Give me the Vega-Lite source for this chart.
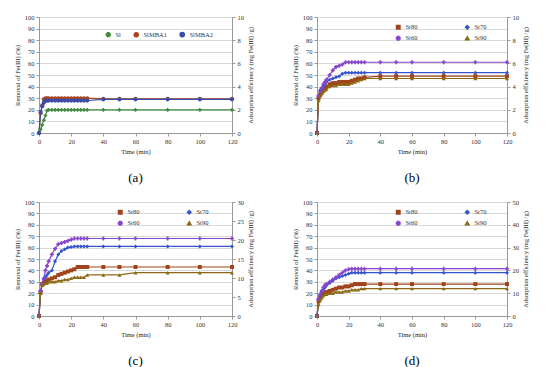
{
"$schema":"https://vega.github.io/schema/vega-lite/v6.json",
"padding":{"left":14,"top":14,"right":5,"bottom":5},
"config":{"font":"Liberation Serif","view":{"stroke":null},
"axis":{"labelFontSize":6.5,"titleFontSize":6.5,"titleFontWeight":"normal","labelColor":"#333","titleColor":"#222","domainColor":"#999","tickColor":"#999","gridColor":"#d9d9d9","tickSize":3,"labelPadding":2,"titlePadding":4,"labelOverlap":false,"labelFlush":false},
"legend":{"labelFontSize":6.5,"labelColor":"#333"},
"title":{"fontSize":13,"fontWeight":"normal","color":"#000","font":"Liberation Serif"}},
"resolve":{"scale":{"color":"independent","shape":"independent","size":"independent"},"legend":{"color":"independent","shape":"independent"}},
"spacing":14,
"data":{"values":[
{"p":"a","s":"Sl","t":0,"r":0},{"p":"a","s":"Sl","t":1,"r":3},{"p":"a","s":"Sl","t":2,"r":7},{"p":"a","s":"Sl","t":3,"r":11},{"p":"a","s":"Sl","t":4,"r":15},{"p":"a","s":"Sl","t":5,"r":19.5},{"p":"a","s":"Sl","t":6,"r":20},{"p":"a","s":"Sl","t":8,"r":20},{"p":"a","s":"Sl","t":10,"r":20},{"p":"a","s":"Sl","t":12,"r":20},{"p":"a","s":"Sl","t":14,"r":20},{"p":"a","s":"Sl","t":16,"r":20},{"p":"a","s":"Sl","t":18,"r":20},{"p":"a","s":"Sl","t":20,"r":20},{"p":"a","s":"Sl","t":22,"r":20},{"p":"a","s":"Sl","t":24,"r":20},{"p":"a","s":"Sl","t":26,"r":20},{"p":"a","s":"Sl","t":28,"r":20},{"p":"a","s":"Sl","t":30,"r":20},{"p":"a","s":"Sl","t":40,"r":20},{"p":"a","s":"Sl","t":50,"r":20},{"p":"a","s":"Sl","t":60,"r":20},{"p":"a","s":"Sl","t":80,"r":20},{"p":"a","s":"Sl","t":100,"r":20},{"p":"a","s":"Sl","t":120,"r":20},
{"p":"a","s":"SlMBA1","t":0,"r":0},{"p":"a","s":"SlMBA1","t":1,"r":17},{"p":"a","s":"SlMBA1","t":2,"r":24},{"p":"a","s":"SlMBA1","t":3,"r":29},{"p":"a","s":"SlMBA1","t":4,"r":30},{"p":"a","s":"SlMBA1","t":5,"r":30},{"p":"a","s":"SlMBA1","t":6,"r":30},{"p":"a","s":"SlMBA1","t":8,"r":30},{"p":"a","s":"SlMBA1","t":10,"r":30},{"p":"a","s":"SlMBA1","t":12,"r":30},{"p":"a","s":"SlMBA1","t":14,"r":30},{"p":"a","s":"SlMBA1","t":16,"r":30},{"p":"a","s":"SlMBA1","t":18,"r":30},{"p":"a","s":"SlMBA1","t":20,"r":30},{"p":"a","s":"SlMBA1","t":22,"r":30},{"p":"a","s":"SlMBA1","t":24,"r":30},{"p":"a","s":"SlMBA1","t":26,"r":30},{"p":"a","s":"SlMBA1","t":28,"r":30},{"p":"a","s":"SlMBA1","t":30,"r":30},{"p":"a","s":"SlMBA1","t":40,"r":29.5},{"p":"a","s":"SlMBA1","t":50,"r":29.5},{"p":"a","s":"SlMBA1","t":60,"r":29.5},{"p":"a","s":"SlMBA1","t":80,"r":29.5},{"p":"a","s":"SlMBA1","t":100,"r":29.5},{"p":"a","s":"SlMBA1","t":120,"r":29.5},
{"p":"a","s":"SlMBA2","t":0,"r":0},{"p":"a","s":"SlMBA2","t":1,"r":18},{"p":"a","s":"SlMBA2","t":2,"r":23},{"p":"a","s":"SlMBA2","t":3,"r":26},{"p":"a","s":"SlMBA2","t":4,"r":28},{"p":"a","s":"SlMBA2","t":5,"r":28},{"p":"a","s":"SlMBA2","t":6,"r":28},{"p":"a","s":"SlMBA2","t":8,"r":28},{"p":"a","s":"SlMBA2","t":10,"r":28},{"p":"a","s":"SlMBA2","t":12,"r":28},{"p":"a","s":"SlMBA2","t":14,"r":28},{"p":"a","s":"SlMBA2","t":16,"r":28},{"p":"a","s":"SlMBA2","t":18,"r":28},{"p":"a","s":"SlMBA2","t":20,"r":28},{"p":"a","s":"SlMBA2","t":22,"r":28},{"p":"a","s":"SlMBA2","t":24,"r":28},{"p":"a","s":"SlMBA2","t":26,"r":28},{"p":"a","s":"SlMBA2","t":28,"r":28},{"p":"a","s":"SlMBA2","t":30,"r":28},{"p":"a","s":"SlMBA2","t":40,"r":29},{"p":"a","s":"SlMBA2","t":50,"r":29},{"p":"a","s":"SlMBA2","t":60,"r":29},{"p":"a","s":"SlMBA2","t":80,"r":29},{"p":"a","s":"SlMBA2","t":100,"r":29},{"p":"a","s":"SlMBA2","t":120,"r":29},
{"p":"b","s":"St80","t":0,"r":0},{"p":"b","s":"St80","t":1,"r":30},{"p":"b","s":"St80","t":2,"r":33},{"p":"b","s":"St80","t":3,"r":35},{"p":"b","s":"St80","t":4,"r":37},{"p":"b","s":"St80","t":5,"r":38},{"p":"b","s":"St80","t":6,"r":40},{"p":"b","s":"St80","t":8,"r":42},{"p":"b","s":"St80","t":10,"r":43},{"p":"b","s":"St80","t":12,"r":43},{"p":"b","s":"St80","t":14,"r":44},{"p":"b","s":"St80","t":16,"r":44},{"p":"b","s":"St80","t":18,"r":44},{"p":"b","s":"St80","t":20,"r":44},{"p":"b","s":"St80","t":22,"r":45},{"p":"b","s":"St80","t":24,"r":46},{"p":"b","s":"St80","t":26,"r":47},{"p":"b","s":"St80","t":28,"r":47},{"p":"b","s":"St80","t":30,"r":48},{"p":"b","s":"St80","t":40,"r":49},{"p":"b","s":"St80","t":50,"r":49},{"p":"b","s":"St80","t":60,"r":49},{"p":"b","s":"St80","t":80,"r":49},{"p":"b","s":"St80","t":100,"r":49},{"p":"b","s":"St80","t":120,"r":49},
{"p":"b","s":"St70","t":0,"r":0},{"p":"b","s":"St70","t":1,"r":32},{"p":"b","s":"St70","t":2,"r":37},{"p":"b","s":"St70","t":3,"r":38},{"p":"b","s":"St70","t":4,"r":40},{"p":"b","s":"St70","t":5,"r":42},{"p":"b","s":"St70","t":6,"r":44},{"p":"b","s":"St70","t":8,"r":46},{"p":"b","s":"St70","t":10,"r":47},{"p":"b","s":"St70","t":12,"r":48},{"p":"b","s":"St70","t":14,"r":49},{"p":"b","s":"St70","t":16,"r":51},{"p":"b","s":"St70","t":18,"r":52},{"p":"b","s":"St70","t":20,"r":52},{"p":"b","s":"St70","t":22,"r":52},{"p":"b","s":"St70","t":24,"r":52},{"p":"b","s":"St70","t":26,"r":52},{"p":"b","s":"St70","t":28,"r":52},{"p":"b","s":"St70","t":30,"r":52},{"p":"b","s":"St70","t":40,"r":52},{"p":"b","s":"St70","t":50,"r":52},{"p":"b","s":"St70","t":60,"r":52},{"p":"b","s":"St70","t":80,"r":52},{"p":"b","s":"St70","t":100,"r":52},{"p":"b","s":"St70","t":120,"r":52},
{"p":"b","s":"St60","t":0,"r":0},{"p":"b","s":"St60","t":1,"r":32},{"p":"b","s":"St60","t":2,"r":36},{"p":"b","s":"St60","t":3,"r":39},{"p":"b","s":"St60","t":4,"r":42},{"p":"b","s":"St60","t":5,"r":44},{"p":"b","s":"St60","t":6,"r":46},{"p":"b","s":"St60","t":8,"r":50},{"p":"b","s":"St60","t":10,"r":54},{"p":"b","s":"St60","t":12,"r":57},{"p":"b","s":"St60","t":14,"r":58},{"p":"b","s":"St60","t":16,"r":59},{"p":"b","s":"St60","t":18,"r":61},{"p":"b","s":"St60","t":20,"r":61},{"p":"b","s":"St60","t":22,"r":61},{"p":"b","s":"St60","t":24,"r":61},{"p":"b","s":"St60","t":26,"r":61},{"p":"b","s":"St60","t":28,"r":61},{"p":"b","s":"St60","t":30,"r":61},{"p":"b","s":"St60","t":40,"r":61},{"p":"b","s":"St60","t":50,"r":61},{"p":"b","s":"St60","t":60,"r":61},{"p":"b","s":"St60","t":80,"r":61},{"p":"b","s":"St60","t":100,"r":61},{"p":"b","s":"St60","t":120,"r":61},
{"p":"b","s":"St90","t":0,"r":0},{"p":"b","s":"St90","t":1,"r":28},{"p":"b","s":"St90","t":2,"r":32},{"p":"b","s":"St90","t":3,"r":34},{"p":"b","s":"St90","t":4,"r":36},{"p":"b","s":"St90","t":5,"r":37},{"p":"b","s":"St90","t":6,"r":38},{"p":"b","s":"St90","t":8,"r":40},{"p":"b","s":"St90","t":10,"r":41},{"p":"b","s":"St90","t":12,"r":41},{"p":"b","s":"St90","t":14,"r":42},{"p":"b","s":"St90","t":16,"r":42},{"p":"b","s":"St90","t":18,"r":42},{"p":"b","s":"St90","t":20,"r":42},{"p":"b","s":"St90","t":22,"r":43},{"p":"b","s":"St90","t":24,"r":44},{"p":"b","s":"St90","t":26,"r":45},{"p":"b","s":"St90","t":28,"r":46},{"p":"b","s":"St90","t":30,"r":47},{"p":"b","s":"St90","t":40,"r":47},{"p":"b","s":"St90","t":50,"r":47},{"p":"b","s":"St90","t":60,"r":47},{"p":"b","s":"St90","t":80,"r":47},{"p":"b","s":"St90","t":100,"r":47},{"p":"b","s":"St90","t":120,"r":47},
{"p":"c","s":"St80","t":0,"r":0},{"p":"c","s":"St80","t":1,"r":21},{"p":"c","s":"St80","t":2,"r":28},{"p":"c","s":"St80","t":3,"r":29},{"p":"c","s":"St80","t":4,"r":30},{"p":"c","s":"St80","t":5,"r":31},{"p":"c","s":"St80","t":6,"r":32},{"p":"c","s":"St80","t":8,"r":33},{"p":"c","s":"St80","t":10,"r":34},{"p":"c","s":"St80","t":12,"r":36},{"p":"c","s":"St80","t":14,"r":37},{"p":"c","s":"St80","t":16,"r":38},{"p":"c","s":"St80","t":18,"r":39},{"p":"c","s":"St80","t":20,"r":40},{"p":"c","s":"St80","t":22,"r":41},{"p":"c","s":"St80","t":24,"r":43},{"p":"c","s":"St80","t":26,"r":43},{"p":"c","s":"St80","t":28,"r":43},{"p":"c","s":"St80","t":30,"r":43},{"p":"c","s":"St80","t":40,"r":43},{"p":"c","s":"St80","t":50,"r":43},{"p":"c","s":"St80","t":60,"r":43},{"p":"c","s":"St80","t":80,"r":43},{"p":"c","s":"St80","t":100,"r":43},{"p":"c","s":"St80","t":120,"r":43},
{"p":"c","s":"St70","t":0,"r":0},{"p":"c","s":"St70","t":1,"r":22},{"p":"c","s":"St70","t":2,"r":28},{"p":"c","s":"St70","t":3,"r":32},{"p":"c","s":"St70","t":4,"r":34},{"p":"c","s":"St70","t":5,"r":36},{"p":"c","s":"St70","t":6,"r":38},{"p":"c","s":"St70","t":8,"r":40},{"p":"c","s":"St70","t":10,"r":48},{"p":"c","s":"St70","t":12,"r":54},{"p":"c","s":"St70","t":14,"r":57},{"p":"c","s":"St70","t":16,"r":58.5},{"p":"c","s":"St70","t":18,"r":60},{"p":"c","s":"St70","t":20,"r":60.5},{"p":"c","s":"St70","t":22,"r":61},{"p":"c","s":"St70","t":24,"r":61},{"p":"c","s":"St70","t":26,"r":61},{"p":"c","s":"St70","t":28,"r":61},{"p":"c","s":"St70","t":30,"r":61},{"p":"c","s":"St70","t":40,"r":61},{"p":"c","s":"St70","t":50,"r":61},{"p":"c","s":"St70","t":60,"r":61},{"p":"c","s":"St70","t":80,"r":61},{"p":"c","s":"St70","t":100,"r":61},{"p":"c","s":"St70","t":120,"r":61},
{"p":"c","s":"St60","t":0,"r":0},{"p":"c","s":"St60","t":1,"r":22},{"p":"c","s":"St60","t":2,"r":28},{"p":"c","s":"St60","t":3,"r":33},{"p":"c","s":"St60","t":4,"r":40},{"p":"c","s":"St60","t":5,"r":44},{"p":"c","s":"St60","t":6,"r":48},{"p":"c","s":"St60","t":8,"r":54},{"p":"c","s":"St60","t":10,"r":59},{"p":"c","s":"St60","t":12,"r":63},{"p":"c","s":"St60","t":14,"r":64},{"p":"c","s":"St60","t":16,"r":65},{"p":"c","s":"St60","t":18,"r":66},{"p":"c","s":"St60","t":20,"r":67},{"p":"c","s":"St60","t":22,"r":68},{"p":"c","s":"St60","t":24,"r":68},{"p":"c","s":"St60","t":26,"r":68},{"p":"c","s":"St60","t":28,"r":68},{"p":"c","s":"St60","t":30,"r":68},{"p":"c","s":"St60","t":40,"r":68},{"p":"c","s":"St60","t":50,"r":68},{"p":"c","s":"St60","t":60,"r":68},{"p":"c","s":"St60","t":80,"r":68},{"p":"c","s":"St60","t":100,"r":68},{"p":"c","s":"St60","t":120,"r":68},
{"p":"c","s":"St90","t":0,"r":0},{"p":"c","s":"St90","t":1,"r":20},{"p":"c","s":"St90","t":2,"r":27},{"p":"c","s":"St90","t":3,"r":28},{"p":"c","s":"St90","t":4,"r":29},{"p":"c","s":"St90","t":5,"r":29},{"p":"c","s":"St90","t":6,"r":30},{"p":"c","s":"St90","t":8,"r":30},{"p":"c","s":"St90","t":10,"r":30},{"p":"c","s":"St90","t":12,"r":31},{"p":"c","s":"St90","t":14,"r":31},{"p":"c","s":"St90","t":16,"r":32},{"p":"c","s":"St90","t":18,"r":32},{"p":"c","s":"St90","t":20,"r":33},{"p":"c","s":"St90","t":22,"r":34},{"p":"c","s":"St90","t":24,"r":34},{"p":"c","s":"St90","t":26,"r":34},{"p":"c","s":"St90","t":28,"r":34},{"p":"c","s":"St90","t":30,"r":36},{"p":"c","s":"St90","t":40,"r":36},{"p":"c","s":"St90","t":50,"r":36},{"p":"c","s":"St90","t":60,"r":38},{"p":"c","s":"St90","t":80,"r":38},{"p":"c","s":"St90","t":100,"r":38},{"p":"c","s":"St90","t":120,"r":38},
{"p":"d","s":"St80","t":0,"r":0},{"p":"d","s":"St80","t":1,"r":13},{"p":"d","s":"St80","t":2,"r":16},{"p":"d","s":"St80","t":3,"r":18},{"p":"d","s":"St80","t":4,"r":19},{"p":"d","s":"St80","t":5,"r":20},{"p":"d","s":"St80","t":6,"r":21},{"p":"d","s":"St80","t":8,"r":22},{"p":"d","s":"St80","t":10,"r":23},{"p":"d","s":"St80","t":12,"r":24},{"p":"d","s":"St80","t":14,"r":25},{"p":"d","s":"St80","t":16,"r":25},{"p":"d","s":"St80","t":18,"r":26},{"p":"d","s":"St80","t":20,"r":26},{"p":"d","s":"St80","t":22,"r":27},{"p":"d","s":"St80","t":24,"r":28},{"p":"d","s":"St80","t":26,"r":28},{"p":"d","s":"St80","t":28,"r":28},{"p":"d","s":"St80","t":30,"r":28},{"p":"d","s":"St80","t":40,"r":28},{"p":"d","s":"St80","t":50,"r":28},{"p":"d","s":"St80","t":60,"r":28},{"p":"d","s":"St80","t":80,"r":28},{"p":"d","s":"St80","t":100,"r":28},{"p":"d","s":"St80","t":120,"r":28},
{"p":"d","s":"St70","t":0,"r":0},{"p":"d","s":"St70","t":1,"r":15},{"p":"d","s":"St70","t":2,"r":18},{"p":"d","s":"St70","t":3,"r":21},{"p":"d","s":"St70","t":4,"r":23},{"p":"d","s":"St70","t":5,"r":25},{"p":"d","s":"St70","t":6,"r":27},{"p":"d","s":"St70","t":8,"r":29},{"p":"d","s":"St70","t":10,"r":31},{"p":"d","s":"St70","t":12,"r":33},{"p":"d","s":"St70","t":14,"r":34},{"p":"d","s":"St70","t":16,"r":35},{"p":"d","s":"St70","t":18,"r":36},{"p":"d","s":"St70","t":20,"r":37},{"p":"d","s":"St70","t":22,"r":38},{"p":"d","s":"St70","t":24,"r":38},{"p":"d","s":"St70","t":26,"r":38},{"p":"d","s":"St70","t":28,"r":38},{"p":"d","s":"St70","t":30,"r":38},{"p":"d","s":"St70","t":40,"r":38},{"p":"d","s":"St70","t":50,"r":38},{"p":"d","s":"St70","t":60,"r":38},{"p":"d","s":"St70","t":80,"r":38},{"p":"d","s":"St70","t":100,"r":38},{"p":"d","s":"St70","t":120,"r":38},
{"p":"d","s":"St60","t":0,"r":0},{"p":"d","s":"St60","t":1,"r":15},{"p":"d","s":"St60","t":2,"r":19},{"p":"d","s":"St60","t":3,"r":22},{"p":"d","s":"St60","t":4,"r":25},{"p":"d","s":"St60","t":5,"r":27},{"p":"d","s":"St60","t":6,"r":28},{"p":"d","s":"St60","t":8,"r":30},{"p":"d","s":"St60","t":10,"r":32},{"p":"d","s":"St60","t":12,"r":34},{"p":"d","s":"St60","t":14,"r":36},{"p":"d","s":"St60","t":16,"r":38},{"p":"d","s":"St60","t":18,"r":40},{"p":"d","s":"St60","t":20,"r":41},{"p":"d","s":"St60","t":22,"r":41.5},{"p":"d","s":"St60","t":24,"r":41.5},{"p":"d","s":"St60","t":26,"r":41.5},{"p":"d","s":"St60","t":28,"r":41.5},{"p":"d","s":"St60","t":30,"r":41.5},{"p":"d","s":"St60","t":40,"r":41.5},{"p":"d","s":"St60","t":50,"r":41.5},{"p":"d","s":"St60","t":60,"r":41.5},{"p":"d","s":"St60","t":80,"r":41.5},{"p":"d","s":"St60","t":100,"r":41.5},{"p":"d","s":"St60","t":120,"r":41.5},
{"p":"d","s":"St90","t":0,"r":0},{"p":"d","s":"St90","t":1,"r":10},{"p":"d","s":"St90","t":2,"r":14},{"p":"d","s":"St90","t":3,"r":16},{"p":"d","s":"St90","t":4,"r":18},{"p":"d","s":"St90","t":5,"r":19},{"p":"d","s":"St90","t":6,"r":19},{"p":"d","s":"St90","t":8,"r":20},{"p":"d","s":"St90","t":10,"r":20},{"p":"d","s":"St90","t":12,"r":21},{"p":"d","s":"St90","t":14,"r":21},{"p":"d","s":"St90","t":16,"r":21},{"p":"d","s":"St90","t":18,"r":22},{"p":"d","s":"St90","t":20,"r":22},{"p":"d","s":"St90","t":22,"r":23},{"p":"d","s":"St90","t":24,"r":23},{"p":"d","s":"St90","t":26,"r":23},{"p":"d","s":"St90","t":28,"r":24},{"p":"d","s":"St90","t":30,"r":24},{"p":"d","s":"St90","t":40,"r":24},{"p":"d","s":"St90","t":50,"r":24},{"p":"d","s":"St90","t":60,"r":24},{"p":"d","s":"St90","t":80,"r":24},{"p":"d","s":"St90","t":100,"r":24},{"p":"d","s":"St90","t":120,"r":24}
]},
"vconcat":[
{"hconcat":[
{"width":193,"height":116,"title":{"text":"(a)","orient":"bottom","offset":17},
"transform":[{"filter":"datum.p==='a'"}],
"layer":[
{"encoding":{
"x":{"field":"t","type":"quantitative","scale":{"domain":[0,120]},"axis":{"title":"Time (min)","values":[0,20,40,60,80,100,120],"grid":false}},
"y":{"field":"r","type":"quantitative","scale":{"domain":[0,100]},"axis":{"title":"Removal of Fe(III) (%)","values":[0,10,20,30,40,50,60,70,80,90,100],"grid":true}},
"color":{"field":"s","type":"nominal","scale":{"domain":["Sl","SlMBA1","SlMBA2"],"range":["#3d8b3d","#a8441c","#3c4ca8"]},"legend":{"title":null,"orient":"none","legendX":66,"legendY":14,"direction":"horizontal","symbolSize":12,"columnPadding":10}}},
"layer":[
{"mark":{"type":"line","strokeWidth":1.2}},
{"mark":{"type":"point","filled":true,"opacity":1},"encoding":{
"shape":{"field":"s","type":"nominal","scale":{"domain":["Sl","SlMBA1","SlMBA2"],"range":["cross","circle","circle"]},"legend":{"title":null,"orient":"none","legendX":66,"legendY":14,"direction":"horizontal","symbolSize":12,"columnPadding":10}},
"size":{"field":"s","type":"nominal","scale":{"domain":["Sl","SlMBA1","SlMBA2"],"range":[14,18,34]},"legend":null}}}
]},
{"mark":{"type":"rule","opacity":0},"encoding":{"y":{"datum":0,"type":"quantitative","scale":{"domain":[0,10]},"axis":{"orient":"right","title":"Adsorption efficiency (mg Fe(III) /g)","titleAngle":270,"titleBaseline":"top","values":[0,2,4,6,8,10],"grid":false}}}}
],
"resolve":{"scale":{"y":"independent"}}},
{"width":190,"height":116,"title":{"text":"(b)","orient":"bottom","offset":17},
"transform":[{"filter":"datum.p==='b'"}],
"layer":[
{"encoding":{
"x":{"field":"t","type":"quantitative","scale":{"domain":[0,120]},"axis":{"title":"Time (min)","values":[0,20,40,60,80,100,120],"grid":false}},
"y":{"field":"r","type":"quantitative","scale":{"domain":[0,100]},"axis":{"title":"Removal of Fe(III) (%)","values":[0,10,20,30,40,50,60,70,80,90,100],"grid":true}},
"color":{"field":"s","type":"nominal","scale":{"domain":["St80","St70","St60","St90"],"range":["#a0441c","#3355cc","#8844cc","#8b6914"]},"legend":{"title":null,"orient":"none","legendX":78,"legendY":7,"direction":"horizontal","columns":2,"symbolSize":12,"columnPadding":44,"rowPadding":1}}},
"layer":[
{"mark":{"type":"line","strokeWidth":1.2}},
{"mark":{"type":"point","filled":true,"opacity":1,"size":16},"encoding":{
"shape":{"field":"s","type":"nominal","scale":{"domain":["St80","St70","St60","St90"],"range":["square","diamond","cross","triangle-up"]},"legend":{"title":null,"orient":"none","legendX":78,"legendY":7,"direction":"horizontal","columns":2,"symbolSize":12,"columnPadding":44,"rowPadding":1}}}}
]},
{"mark":{"type":"rule","opacity":0},"encoding":{"y":{"datum":0,"type":"quantitative","scale":{"domain":[0,10]},"axis":{"orient":"right","title":"Adsorption efficiency (mg Fe(III) /g)","titleAngle":270,"titleBaseline":"top","values":[0,2,4,6,8,10],"grid":false}}}}
],
"resolve":{"scale":{"y":"independent"}}}
],"spacing":38,"resolve":{"scale":{"color":"independent","shape":"independent","size":"independent"},"legend":{"color":"independent","shape":"independent"}}},
{"hconcat":[
{"width":193,"height":114,"title":{"text":"(c)","orient":"bottom","offset":17},
"transform":[{"filter":"datum.p==='c'"}],
"layer":[
{"encoding":{
"x":{"field":"t","type":"quantitative","scale":{"domain":[0,120]},"axis":{"title":"Time (min)","values":[0,20,40,60,80,100,120],"grid":false}},
"y":{"field":"r","type":"quantitative","scale":{"domain":[0,100]},"axis":{"title":"Removal of Fe(III) (%)","values":[0,10,20,30,40,50,60,70,80,90,100],"grid":true}},
"color":{"field":"s","type":"nominal","scale":{"domain":["St80","St70","St60","St90"],"range":["#a0441c","#3355cc","#8844cc","#8b6914"]},"legend":{"title":null,"orient":"none","legendX":78,"legendY":7,"direction":"horizontal","columns":2,"symbolSize":12,"columnPadding":44,"rowPadding":1}}},
"layer":[
{"mark":{"type":"line","strokeWidth":1.2}},
{"mark":{"type":"point","filled":true,"opacity":1,"size":16},"encoding":{
"shape":{"field":"s","type":"nominal","scale":{"domain":["St80","St70","St60","St90"],"range":["square","diamond","cross","triangle-up"]},"legend":{"title":null,"orient":"none","legendX":78,"legendY":7,"direction":"horizontal","columns":2,"symbolSize":12,"columnPadding":44,"rowPadding":1}}}}
]},
{"mark":{"type":"rule","opacity":0},"encoding":{"y":{"datum":0,"type":"quantitative","scale":{"domain":[0,30]},"axis":{"orient":"right","title":"Adsorption efficiency (mg Fe(III) /g)","titleAngle":270,"titleBaseline":"top","values":[0,5,10,15,20,25,30],"grid":false}}}}
],
"resolve":{"scale":{"y":"independent"}}},
{"width":190,"height":114,"title":{"text":"(d)","orient":"bottom","offset":17},
"transform":[{"filter":"datum.p==='d'"}],
"layer":[
{"encoding":{
"x":{"field":"t","type":"quantitative","scale":{"domain":[0,120]},"axis":{"title":"Time (min)","values":[0,20,40,60,80,100,120],"grid":false}},
"y":{"field":"r","type":"quantitative","scale":{"domain":[0,100]},"axis":{"title":"Removal of Fe(III) (%)","values":[0,10,20,30,40,50,60,70,80,90,100],"grid":true}},
"color":{"field":"s","type":"nominal","scale":{"domain":["St80","St70","St60","St90"],"range":["#a0441c","#3355cc","#8844cc","#8b6914"]},"legend":{"title":null,"orient":"none","legendX":78,"legendY":7,"direction":"horizontal","columns":2,"symbolSize":12,"columnPadding":44,"rowPadding":1}}},
"layer":[
{"mark":{"type":"line","strokeWidth":1.2}},
{"mark":{"type":"point","filled":true,"opacity":1,"size":16},"encoding":{
"shape":{"field":"s","type":"nominal","scale":{"domain":["St80","St70","St60","St90"],"range":["square","diamond","cross","triangle-up"]},"legend":{"title":null,"orient":"none","legendX":78,"legendY":7,"direction":"horizontal","columns":2,"symbolSize":12,"columnPadding":44,"rowPadding":1}}}}
]},
{"mark":{"type":"rule","opacity":0},"encoding":{"y":{"datum":0,"type":"quantitative","scale":{"domain":[0,50]},"axis":{"orient":"right","title":"Adsorption efficiency (mg Fe(III) /g)","titleAngle":270,"titleBaseline":"top","values":[0,10,20,30,40,50],"grid":false}}}}
],
"resolve":{"scale":{"y":"independent"}}}
],"spacing":38,"resolve":{"scale":{"color":"independent","shape":"independent","size":"independent"},"legend":{"color":"independent","shape":"independent"}}}
]
}
